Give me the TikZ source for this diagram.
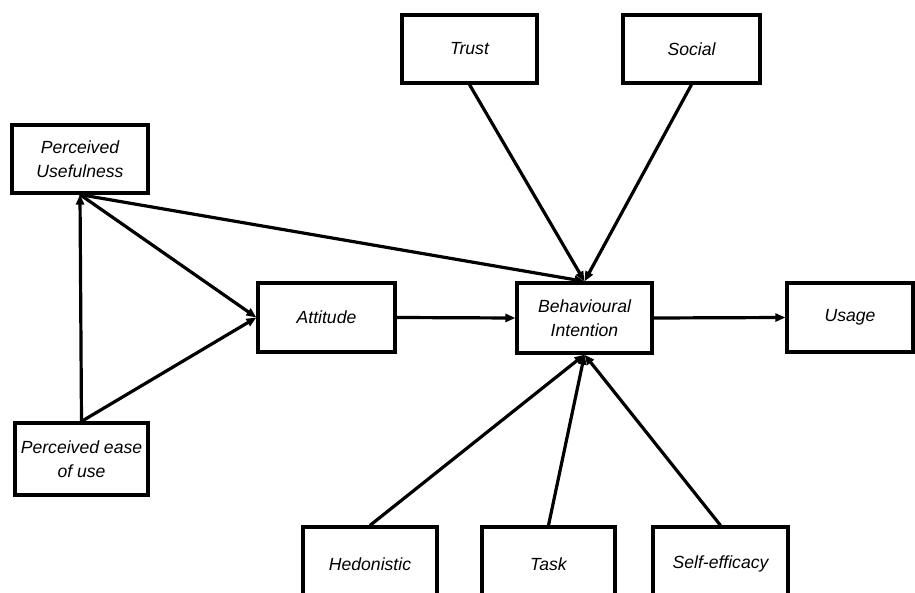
\documentclass[tikz,border=0pt]{standalone}
\usepackage{fontspec}
\setmainfont{Liberation Sans}
\usetikzlibrary{arrows.meta}
\begin{document}
\begin{tikzpicture}[x=1pt,y=-1pt,
  box/.style={draw=black, line width=3.2pt, fill=white, align=center, inner sep=0pt,
    font=\fontsize{17.6}{24.5}\selectfont\itshape},
  conn/.style={line width=3.2pt, -{Triangle[length=10pt,width=8pt]}}]
\useasboundingbox (0,0) rectangle (915,593);
\clip (0,0) rectangle (915,593);
\fill[white] (0,0) rectangle (915,593);
% nodes
\node[box, minimum width=136pt, minimum height=68pt] (pu) at (80,159) {Perceived\\Usefulness};
\node[box, minimum width=133pt, minimum height=72pt] (peu) at (81.5,459) {Perceived ease\\of use};
\node[box, minimum width=137pt, minimum height=69pt] (att) at (326.5,317.5) {Attitude};
\node[box, minimum width=135pt, minimum height=68pt] (trust) at (469.5,49) {Trust};
\node[box, minimum width=137pt, minimum height=68pt] (social) at (691.5,49) {Social};
\node[box, minimum width=135pt, minimum height=70pt] (bi) at (584.5,318) {Behavioural\\Intention};
\node[box, minimum width=126pt, minimum height=69pt] (usage) at (850,317.5) {Usage};
\node[box, minimum width=134pt, minimum height=74pt] (hed) at (370,564) {Hedonistic};
\node[box, minimum width=133pt, minimum height=74pt] (task) at (548.5,564) {Task};
\node[box, minimum width=135pt, minimum height=74pt] (self) at (720.5,564) {Self-efficacy};
% connectors
\draw[conn] (peu.north) -- (pu.south);
\draw[conn] (pu.south) -- (att.west);
\draw[conn] (peu.north) -- (att.west);
\draw[conn] (pu.south) -- (bi.north);
\draw[conn] (trust.south) -- (bi.north);
\draw[conn] (social.south) -- (bi.north);
\draw[conn] (att.east) -- (bi.west);
\draw[conn] (bi.east) -- (usage.west);
\draw[conn] (hed.north) -- (bi.south);
\draw[conn] (task.north) -- (bi.south);
\draw[conn] (self.north) -- (bi.south);
\end{tikzpicture}
\end{document}
